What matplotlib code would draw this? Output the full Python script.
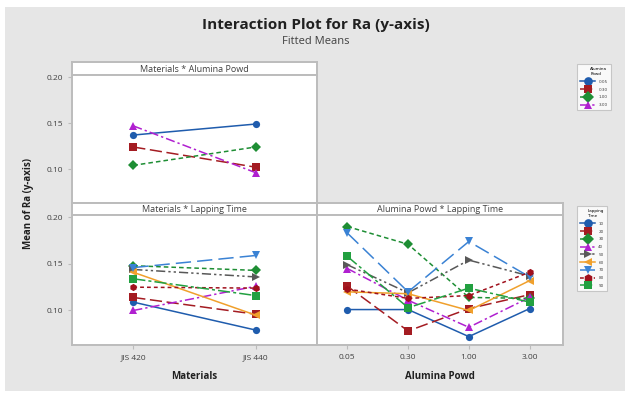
import matplotlib.pyplot as plt
from matplotlib.patches import Rectangle

W, H = 625, 394

materials = ['JIS 420', 'JIS 440']
alumina = ['0.05', '0.30', '1.00', '3.00']
lapping = ['10', '20', '30', '40', '50', '60', '70', '80', '90']

# Materials * Alumina Powd, one list per alumina level
ma_005 = [0.137, 0.149]
ma_030 = [0.124, 0.102]
ma_100 = [0.104, 0.124]
ma_300 = [0.147, 0.096]
mat_alu = [ma_005, ma_030, ma_100, ma_300]

# Materials * Lapping Time, one list per lapping level
ml_1 = [0.109, 0.079]
ml_2 = [0.114, 0.096]
ml_3 = [0.148, 0.143]
ml_4 = [0.100, 0.126]
ml_5 = [0.144, 0.136]
ml_6 = [0.141, 0.095]
ml_7 = [0.146, 0.159]
ml_8 = [0.125, 0.124]
ml_9 = [0.134, 0.116]
mat_lap = [ml_1, ml_2, ml_3, ml_4, ml_5, ml_6, ml_7, ml_8, ml_9]

# Alumina Powd * Lapping Time, one list per lapping level
al_1 = [0.101, 0.101, 0.072, 0.102]
al_2 = [0.126, 0.078, 0.102, 0.117]
al_3 = [0.190, 0.171, 0.114, 0.113]
al_4 = [0.145, 0.111, 0.082, 0.114]
al_5 = [0.149, 0.119, 0.154, 0.137]
al_6 = [0.120, 0.118, 0.100, 0.132]
al_7 = [0.183, 0.120, 0.174, 0.136]
al_8 = [0.123, 0.113, 0.116, 0.141]
al_9 = [0.158, 0.103, 0.124, 0.109]
alu_lap = [al_1, al_2, al_3, al_4, al_5, al_6, al_7, al_8, al_9]

colors = ['#1f5cad', '#a41c22', '#1e8e34', '#b020d0', '#585858',
          '#f0a02c', '#3a82d4', '#a0101c', '#22a040']
markers = ['o', 's', 'D', '^', '>', '<', 'v', 'h', 's']
styles = ['-', (0, (8, 3)), (0, (3, 2)), (0, (6, 2, 1.5, 2)),
          (0, (6, 2, 1.5, 2, 1.5, 2)), '-', (0, (10, 4)), (0, (2.5, 2)),
          (0, (8, 2, 2, 2))]

frame_col = '#bcbcbc'
text_col = '#404040'


def box(x0, y0, x1, y1):
    return [x0 / W, 1 - y1 / H, (x1 - x0) / W, (y1 - y0) / H]


fig = plt.figure(figsize=(W / 100, H / 100), dpi=100)
fig.patch.set_facecolor('white')
fig.patches.append(Rectangle((5 / W, 3 / H), 1, 384 / H, transform=fig.transFigure,
                             facecolor='#e6e6e6', edgecolor='none', zorder=-5))

fig.text(316 / W, 1 - 25 / H, 'Interaction Plot for Ra (y-axis)', ha='center', va='center',
         fontsize=11, fontweight='bold', family='Open Sans', color='#202020')
fig.text(316 / W, 1 - 42 / H, 'Fitted Means', ha='center', va='center',
         fontsize=8, family='Open Sans', color=text_col)
fig.text(29 / W, 1 - 203 / H, 'Mean of Ra (y-axis)', ha='center', va='center', rotation=90,
         fontsize=7, fontweight='bold', family='Open Sans', color='#202020')


def panel(rect, header_rect, title):
    hd = fig.add_axes(box(*header_rect))
    hd.set_xticks([])
    hd.set_yticks([])
    for s in hd.spines.values():
        s.set_color(frame_col)
        s.set_linewidth(1.4)
    hd.text(0.5, 0.45, title, ha='center', va='center', fontsize=6.5,
            family='Open Sans', color=text_col)
    ax = fig.add_axes(box(*rect))
    for s in ax.spines.values():
        s.set_color(frame_col)
        s.set_linewidth(1.4)
    ax.set_ylim(0.063, 0.2024)
    ax.set_yticks([0.10, 0.15, 0.20])
    ax.set_yticklabels(['0.10', '0.15', '0.20'])
    ax.tick_params(colors=frame_col, labelcolor=text_col, labelsize=6, length=3, width=0.8)
    for lab in ax.get_xticklabels() + ax.get_yticklabels():
        lab.set_family('Open Sans')
    return ax


ax1 = panel((72, 75, 317, 203), (72, 62, 317, 75), 'Materials * Alumina Powd')
ax2 = panel((72, 215, 317, 345), (72, 203, 317, 215), 'Materials * Lapping Time')
ax3 = panel((317, 215, 563, 345), (317, 203, 563, 215), 'Alumina Powd * Lapping Time')


def draw(ax, xs, series, idx):
    handles = []
    for i, ys in zip(idx, series):
        h, = ax.plot(xs, ys, color=colors[i], marker=markers[i], linestyle=styles[i],
                     linewidth=1.1, markersize=5.2, markeredgewidth=0)
        handles.append(h)
    return handles


h_alu = draw(ax1, range(2), mat_alu, [0, 1, 2, 3])
draw(ax2, range(2), mat_lap, range(9))
h_lap = draw(ax3, range(4), alu_lap, range(9))

ax1.set_xlim(-0.5, 1.5)
ax1.set_xticks([])
ax2.set_xlim(-0.5, 1.5)
ax2.set_xticks([0, 1])
ax2.set_xticklabels(materials)
ax3.set_xlim(-0.5, 3.55)
ax3.set_xticks(range(4))
ax3.set_xticklabels(alumina)
ax3.tick_params(axis='y', left=False, labelleft=False)
for ax in (ax2, ax3):
    for lab in ax.get_xticklabels():
        lab.set_family('Open Sans')

ax2.set_xlabel('Materials', fontsize=7, fontweight='bold', family='Open Sans',
               color='#202020', labelpad=7)
ax3.set_xlabel('Alumina Powd', fontsize=7, fontweight='bold', family='Open Sans',
               color='#202020', labelpad=7)

for handles, labels, title, top in ((h_alu, alumina, 'Alumina\nPowd', 62),
                                    (h_lap, lapping, 'Lapping\nTime', 204)):
    leg = fig.legend(handles, labels, title=title, loc='upper left',
                     bbox_to_anchor=(575 / W, 1 - top / H), fontsize=3, title_fontsize=3,
                     frameon=True, fancybox=False, handlelength=3.5, labelspacing=0.9,
                     borderpad=0.8, markerscale=1.2, alignment='right')
    leg.get_frame().set_edgecolor(frame_col)
    leg.get_frame().set_linewidth(0.8)
    for t in leg.get_texts():
        t.set_color(text_col)

fig.savefig('out.png', dpi=100)
